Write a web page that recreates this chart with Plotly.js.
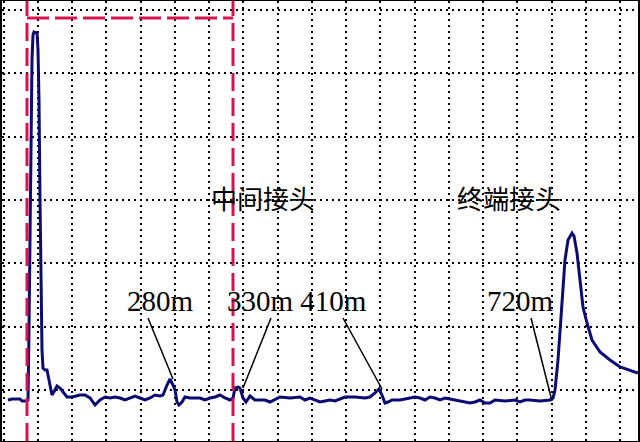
<!DOCTYPE html>
<html>
<head>
<meta charset="utf-8">
<script src="https://cdn.plot.ly/plotly-3.0.1.min.js"></script>
<style>html,body{margin:0;padding:0;background:#fff;}#chart{width:640px;height:442px;}</style>
</head>
<body>
<div id="chart"></div>
<script>
// Trace samples (horizontal position, amplitude)
var traceX = [8,12,20,22,26,28,29,30,31,32,33,34,36,37,38,39,40,41,42,43,45,47,48,50,52,55,57,60,63,67,72,80,85,90,95,100,105,110,115,120,125,130,135,140,145,150,155,160,163,167,170,173,175,177,179,182,185,190,200,205,210,215,220,225,230,233,235,238,240,243,246,250,255,265,270,280,290,300,305,310,315,320,330,335,345,355,365,370,375,379,382,385,388,392,400,410,415,420,425,430,435,440,445,455,460,470,475,480,485,490,495,505,515,520,525,530,540,550,553,555,558,560,562,565,568,572,574,577,580,583,587,592,600,610,620,630,638];
var traceY = [41,42,42,40,40,41,111,221,321,381,406,409,408,409,391,341,241,141,91,73,71,71,66,56,46,51,55,53,49,44,44,46,46,43,36,41,44,43,44,43,41,43,45,43,41,43,46,45,46,56,62,56,51,39,36,39,44,43,43,41,43,44,46,43,41,43,53,54,53,43,39,45,41,41,39,44,43,44,41,43,41,39,41,40,44,44,43,44,48,52,46,38,39,41,41,43,44,43,41,44,43,41,43,41,40,38,39,41,38,38,41,40,41,39,41,41,40,41,43,51,81,111,141,181,201,208,205,188,161,134,118,101,89,81,74,71,68];

// Text labels
var jointLabels = ["中间接头", "终端接头"];
var jointX = [263, 509];
var jointY = [244, 244];
var distLabels = ["280m", "330m 410m", "720m"];
var distX = [160, 297, 520];
var distY = [140, 140, 140];
// Leader lines: label end -> trace point
var leaderX0 = [148, 271, 343, 531];
var leaderY0 = [123, 123, 123, 123];
var leaderX1 = [173, 243, 382, 552];
var leaderY1 = [62, 53, 52, 40];
// Red dashed window
var winLeft = 27, winRight = 233, winTop = 423;

var shapes = [];
var red = "#d6124f";
shapes.push({type:"line", xref:"x", yref:"paper", x0:winLeft, x1:winLeft, y0:0, y1:1, line:{color:red, width:3, dash:"18px,7px"}});
shapes.push({type:"line", xref:"x", yref:"paper", x0:winRight, x1:winRight, y0:0, y1:1, line:{color:red, width:3, dash:"18px,7px"}});
shapes.push({type:"line", xref:"x", yref:"y", x0:winLeft, x1:winRight, y0:winTop, y1:winTop, line:{color:red, width:3, dash:"22px,6px"}});
for (var i = 0; i < leaderX0.length; i++) {
  shapes.push({type:"line", xref:"x", yref:"y", x0:leaderX0[i], y0:leaderY0[i], x1:leaderX1[i], y1:leaderY1[i], line:{color:"#000", width:1.5}});
}

var annotations = [];
for (var j = 0; j < jointLabels.length; j++) {
  annotations.push({x:jointX[j], y:jointY[j], xref:"x", yref:"y", text:jointLabels[j], showarrow:false,
    font:{family:"Noto Sans CJK SC", size:26, color:"#000"}, xanchor:"center", yanchor:"middle"});
}
for (var k = 0; k < distLabels.length; k++) {
  annotations.push({x:distX[k], y:distY[k], xref:"x", yref:"y", text:distLabels[k], showarrow:false,
    font:{family:"Liberation Serif", size:29, color:"#000"}, xanchor:"center", yanchor:"middle"});
}

var data = [{
  x: traceX, y: traceY, type:"scatter", mode:"lines",
  line:{color:"#0b0b72", width:3}, hoverinfo:"skip"
}];

var layout = {
  width:640, height:442,
  margin:{l:2, r:2, t:1, b:1, pad:0},
  paper_bgcolor:"#fff", plot_bgcolor:"#fff",
  showlegend:false,
  xaxis:{range:[2,638], tick0:38, dtick:34.24, showticklabels:false, ticks:"",
    showgrid:true, gridcolor:"#000", gridwidth:2, griddash:"2px,4px",
    zeroline:false, showline:true, mirror:true, linecolor:"#000", linewidth:2, fixedrange:true},
  yaxis:{range:[0,440], tick0:51, dtick:63.333, showticklabels:false, ticks:"",
    showgrid:true, gridcolor:"#000", gridwidth:2, griddash:"2px,4px",
    zeroline:false, showline:true, mirror:true, linecolor:"#000", linewidth:2, fixedrange:true},
  shapes: shapes,
  annotations: annotations
};

Plotly.newPlot("chart", data, layout, {staticPlot:true, displayModeBar:false});
</script>
</body>
</html>
